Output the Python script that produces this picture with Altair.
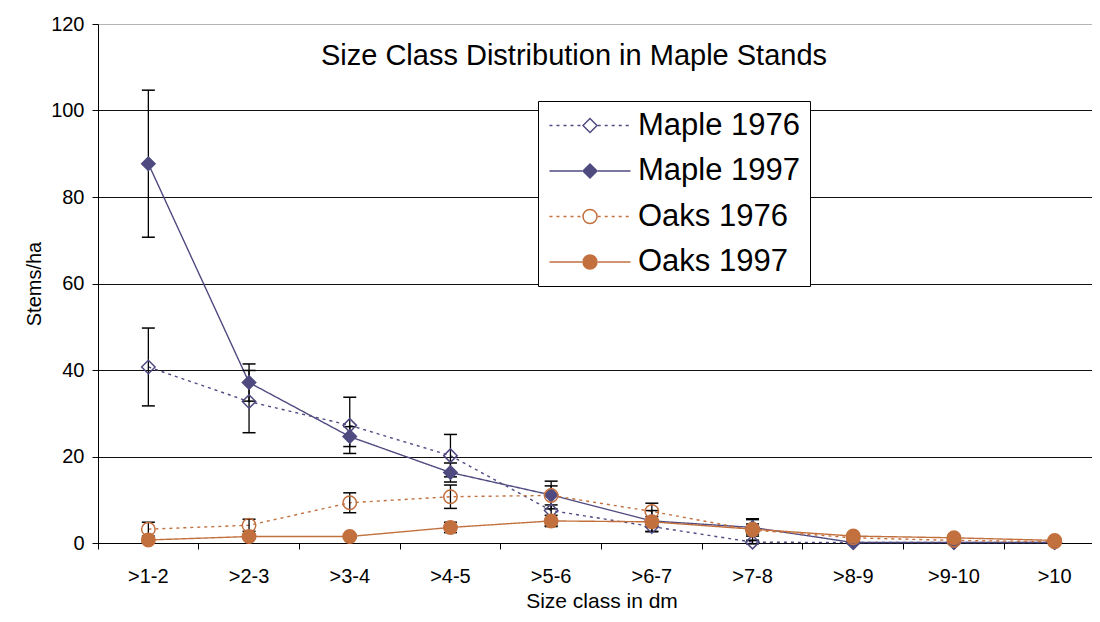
import altair as alt
import pandas as pd

chart_title = ["Size Class Distribution in Maple Stands"]
categories = [">1-2", ">2-3", ">3-4", ">4-5", ">5-6", ">6-7", ">7-8", ">8-9", ">9-10", ">10"]
series_names = ["Maple 1976", "Maple 1997", "Oaks 1976", "Oaks 1997"]

maple_1976 = [40.7, 32.7, 27.2, 20.2, 7.5, 3.8, 0.2, 0.1, 0.1, 0.1]
maple_1976_err = [9.0, 7.2, 6.5, 4.9, 3.5, 1.2, 0.4, 0.0, 0.0, 0.0]
maple_1997 = [87.7, 37.1, 24.6, 16.3, 11.1, 5.1, 3.6, 0.1, 0.1, 0.1]
maple_1997_err = [17.0, 4.3, 2.3, 2.2, 3.2, 2.4, 2.0, 0.2, 0.2, 0.0]
oaks_1976 = [3.2, 4.1, 9.3, 10.7, 11.0, 7.3, 3.0, 1.2, 0.6, 0.3]
oaks_1976_err = [1.6, 1.4, 2.3, 2.7, 2.2, 1.9, 2.4, 0.5, 0.4, 0.2]
oaks_1997 = [0.7, 1.5, 1.5, 3.6, 5.1, 4.9, 3.2, 1.6, 1.2, 0.6]
oaks_1997_err = [0.5, 0.5, 0.4, 1.2, 1.3, 1.2, 1.2, 0.6, 0.5, 0.4]

values = [maple_1976, maple_1997, oaks_1976, oaks_1997]
errors = [maple_1976_err, maple_1997_err, oaks_1976_err, oaks_1997_err]

rows = []
for name, vals, errs in zip(series_names, values, errors):
    for c, v, e in zip(categories, vals, errs):
        rows.append({"cat": c, "series": name, "series_l": name, "value": v, "err": e})
df = pd.DataFrame(rows)

FONT = "Liberation Sans"
PURPLE = "#4F4B80"
ORANGE = "#C2703E"
colors = [PURPLE, PURPLE, ORANGE, ORANGE]
fills = ["transparent", PURPLE, "transparent", ORANGE]
shapes = ["diamond", "diamond", "circle", "circle"]
dashes = [[3, 4], [1, 0], [3, 4], [1, 0]]

x_axis = alt.Axis(title="Size class in dm", labelAngle=0, bandPosition=0, grid=False,
                  domainColor="black", domainWidth=1, tickColor="black", tickSize=6, tickWidth=1,
                  labelFont=FONT, labelFontSize=20, labelColor="black", labelPadding=17,
                  titleFont=FONT, titleFontSize=21, titleFontWeight="normal", titleColor="black",
                  titlePadding=4)
y_axis = alt.Axis(title="Stems/ha", values=[0, 20, 40, 60, 80, 100, 120], grid=True,
                  gridColor={"condition": {"test": "datum.value === 120", "value": "#b4b4b4"}, "value": "#111111"},
                  gridWidth=1, gridOpacity=1,
                  domainColor="black", domainWidth=1, tickColor="black", tickSize=6, tickWidth=1,
                  labelFont=FONT, labelFontSize=20, labelColor="black", labelPadding=8,
                  titleFont=FONT, titleFontSize=20, titleFontWeight="normal", titleColor="black",
                  titlePadding=6)

x_scale = alt.Scale(type="band", paddingInner=0, paddingOuter=0, range=[0, 1007])
y_scale = alt.Scale(domain=[0, 120], nice=False, zero=True)

def X():
    return alt.X("cat:N", sort=categories, scale=x_scale, axis=x_axis)

legend_common = dict(orient="none", legendX=440, legendY=77, title=None,
                     labelFont=FONT, labelFontSize=31, labelColor="black", labelLimit=400,
                     symbolSize=196, symbolOffset=27.5, labelOffset=32.5, rowPadding=13.5,
                     padding=9, symbolStrokeWidth=1.5)
line_legend = alt.Legend(strokeColor="black", fillColor="white",
                         symbolType="M-5.79,0L-1.1,0M1.1,0L5.79,0", **legend_common)
point_legend = alt.Legend(labelOpacity=0, **legend_common)

base = alt.Chart(df)

lines = base.mark_line(strokeWidth=1.4).encode(
    x=X(),
    y=alt.Y("value:Q", scale=y_scale, axis=y_axis),
    stroke=alt.Stroke("series_l:N", scale=alt.Scale(range=colors), legend=line_legend),
    strokeDash=alt.StrokeDash("series_l:N", scale=alt.Scale(range=dashes), legend=line_legend),
)

err_base = base.transform_filter("datum.err > 0").transform_calculate(
    lo="datum.value - datum.err", hi="datum.value + datum.err")

err_rule = err_base.mark_rule(color="black", strokeWidth=1.3).encode(
    x=X(),
    y=alt.Y("lo:Q", scale=y_scale, axis=y_axis),
    y2="hi:Q",
)
cap_lo = err_base.mark_tick(color="black", thickness=1.5, size=13, orient="horizontal", opacity=1).encode(
    x=X(), y=alt.Y("lo:Q", scale=y_scale, axis=y_axis))
cap_hi = err_base.mark_tick(color="black", thickness=1.5, size=13, orient="horizontal", opacity=1).encode(
    x=X(), y=alt.Y("hi:Q", scale=y_scale, axis=y_axis))

points = base.mark_point(filled=False, size=180, strokeWidth=1.5, opacity=1).encode(
    x=X(),
    y=alt.Y("value:Q", scale=y_scale, axis=y_axis),
    color=alt.Color("series:N", scale=alt.Scale(range=colors), legend=point_legend),
    fill=alt.Fill("series:N", scale=alt.Scale(range=fills), legend=point_legend),
    shape=alt.Shape("series:N", scale=alt.Scale(range=shapes), legend=point_legend),
)

title_text = alt.Chart(pd.DataFrame({"t": chart_title})).mark_text(
    font=FONT, fontSize=29, color="black", align="center", baseline="alphabetic"
).encode(text="t:N", x=alt.value(476), y=alt.value(41))

chart = alt.layer(lines, err_rule, cap_lo, cap_hi, points, title_text).properties(
    width=994, height=519,
    autosize=alt.AutoSizeParams(type="none"),
    padding={"left": 90, "top": 16, "right": 0, "bottom": 72},
).configure_view(stroke=None).configure(background="white")

chart.save("out.html", embed_options={"renderer": "svg", "actions": False})
